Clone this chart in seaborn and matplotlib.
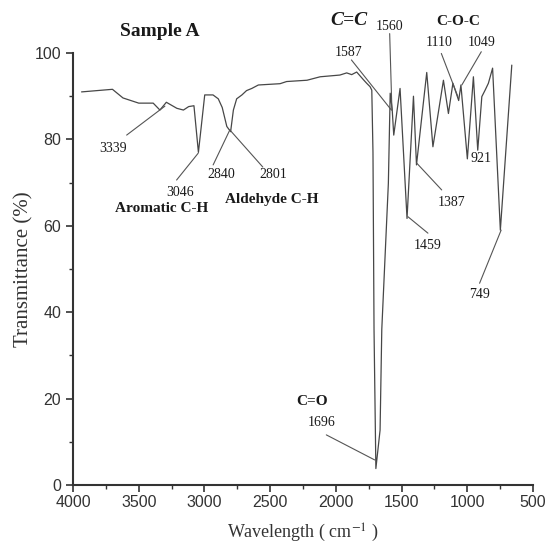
import matplotlib
matplotlib.use("Agg")
import matplotlib.pyplot as plt
import numpy as np
import pandas as pd
import seaborn as sns

# FTIR spectrum of sample A (wavenumber in cm^-1, transmittance in %)
wavenumber = [3935, 3700, 3620, 3500, 3390, 3339, 3290, 3210, 3160, 3120,
              3080, 3046, 2998, 2935, 2895, 2865, 2830, 2801, 2780, 2755,
              2715, 2680, 2640, 2590, 2425, 2375, 2220, 2120, 1970, 1918,
              1880, 1842, 1790, 1766, 1740, 1727, 1718, 1710, 1696, 1664,
              1651, 1601, 1587, 1572, 1560, 1512, 1459, 1410, 1387, 1309,
              1262, 1182, 1144, 1110, 1066, 1049, 1000, 954, 921, 890,
              865, 840, 808, 749, 662]
transmittance = [91.0, 91.6, 89.6, 88.4, 88.4, 86.8, 88.6, 87.2, 86.8, 87.6,
                 87.8, 77.0, 90.3, 90.3, 89.4, 87.4, 83.0, 81.8, 86.8, 89.4,
                 90.3, 91.3, 91.8, 92.6, 92.9, 93.4, 93.7, 94.5, 94.9, 95.4,
                 95.0, 95.6, 93.8, 93.0, 92.2, 91.4, 77.0, 36.0, 3.8, 12.7,
                 36.0, 69.8, 90.7, 87.0, 81.0, 91.8, 61.7, 90.0, 74.1, 95.5,
                 78.3, 93.7, 86.0, 93.0, 89.0, 92.6, 75.5, 94.5, 77.5, 89.9,
                 91.4, 93.0, 96.5, 59.0, 97.2]

# Band labels and functional-group labels
band_labels = ["3339", "3046", "2840", "2801", "1587", "1560", "1110",
               "1049", "921", "1387", "1459", "749", "1696"]
group_labels = ["Aromatic C-H", "Aldehyde C-H", "C-O-C", "C=O"]

x_ticks = [4000, 3500, 3000, 2500, 2000, 1500, 1000, 500]
y_ticks = [0, 20, 40, 60, 80, 100]

df = pd.DataFrame({"wavenumber": wavenumber, "transmittance": transmittance})

sns.set_style("ticks")
plt.rcParams["font.family"] = ["Liberation Serif", "DejaVu Serif"]
plt.rcParams["mathtext.fontset"] = "stix"

fig = plt.figure(figsize=(5.49, 5.57), dpi=100)
ax = fig.add_axes([0.133, 0.1293, 0.838, 0.7755])

sns.lineplot(data=df, x="wavenumber", y="transmittance", sort=False,
             estimator=None, color="#474747", linewidth=0.9, ax=ax)

ax.set_xlim(4000, 500)
ax.set_ylim(0, 100)
ax.set_xticks(x_ticks)
ax.set_yticks(y_ticks)
ax.set_xticks(np.arange(3750, 500, -500), minor=True)
ax.set_yticks(np.arange(10, 100, 20), minor=True)

tick_font = dict(family=["Liberation Sans", "DejaVu Sans"], size=11.5)
ax.set_xticklabels([str(v) for v in x_ticks], fontdict=tick_font, color="#333333")
ax.set_yticklabels([str(v) for v in y_ticks], fontdict=tick_font, color="#333333")
ax.tick_params(axis="both", which="major", direction="out", length=5,
               width=1.2, color="#333333")
ax.tick_params(axis="both", which="minor", direction="out", length=3,
               width=1.0, color="#333333")
ax.tick_params(axis="x", pad=2.5)
ax.tick_params(axis="y", pad=3.5)

sns.despine(ax=ax)
for side in ("left", "bottom"):
    ax.spines[side].set_linewidth(1.5)
    ax.spines[side].set_color("#333333")

ax.set_xlabel("Wavelength ( cm$^{-1}$ )", fontsize=13, color="#333333", labelpad=8)
ax.set_ylabel("Transmittance (%)", fontsize=15, color="#333333", labelpad=1)

num_style = dict(fontsize=10, ha="center", va="center", color="#1a1a1a")
grp_style = dict(fontsize=11, ha="center", va="center", fontweight="bold",
                 color="#1a1a1a")
lead_style = dict(arrowstyle="-", color="#555555", linewidth=0.8,
                  shrinkA=0, shrinkB=0)

ax.text(3339, 104.9, "Sample A", fontsize=14, fontweight="bold",
        ha="center", va="center", color="#1a1a1a", clip_on=False)
ax.text(1903, 107.6, "C=C", fontsize=14, fontweight="bold", style="italic",
        ha="center", va="center", color="#1a1a1a", clip_on=False)

label_pos = {
    "3339": (3694, 77.9), "3046": (3187, 67.7), "2840": (2870, 71.9),
    "2801": (2473, 71.9), "1587": (1903, 100.2), "1560": (1591, 106.1),
    "1110": (1218, 102.4), "1049": (894, 102.4), "921": (894, 75.5),
    "1387": (1117, 65.4), "1459": (1300, 55.4), "749": (910, 44.2),
    "1696": (2108, 14.4),
}
leaders = {
    "3339": ((3592, 81.0), (3301, 87.7)),
    "3046": ((3212, 70.6), (3048, 76.8)),
    "2840": ((2934, 74.1), (2807, 82.2)),
    "2801": ((2556, 73.6), (2807, 82.2)),
    "1587": ((1882, 98.4), (1578, 86.8)),
    "1560": ((1591, 104.5), (1574, 86.8)),
    "1110": ((1198, 99.9), (1072, 89.9)),
    "1049": ((894, 100.3), (1042, 92.6)),
    "1387": ((1195, 68.3), (1385, 74.5)),
    "1459": ((1300, 58.3), (1452, 62.1)),
    "749": ((907, 46.7), (743, 59.0)),
    "1696": ((2073, 11.6), (1705, 5.8)),
}
for lab in band_labels:
    x, y = label_pos[lab]
    ax.text(x, y, lab, clip_on=False, **num_style)
    if lab in leaders:
        start, tip = leaders[lab]
        ax.annotate("", xy=tip, xytext=start, arrowprops=lead_style,
                    annotation_clip=False)

group_pos = {"Aromatic C-H": (3326, 64.0), "Aldehyde C-H": (2488, 66.1),
             "C-O-C": (1072, 107.4), "C=O": (2180, 19.3)}
for lab in group_labels:
    x, y = group_pos[lab]
    ax.text(x, y, lab, clip_on=False, **grp_style)

fig.savefig("out.png", dpi=100)
